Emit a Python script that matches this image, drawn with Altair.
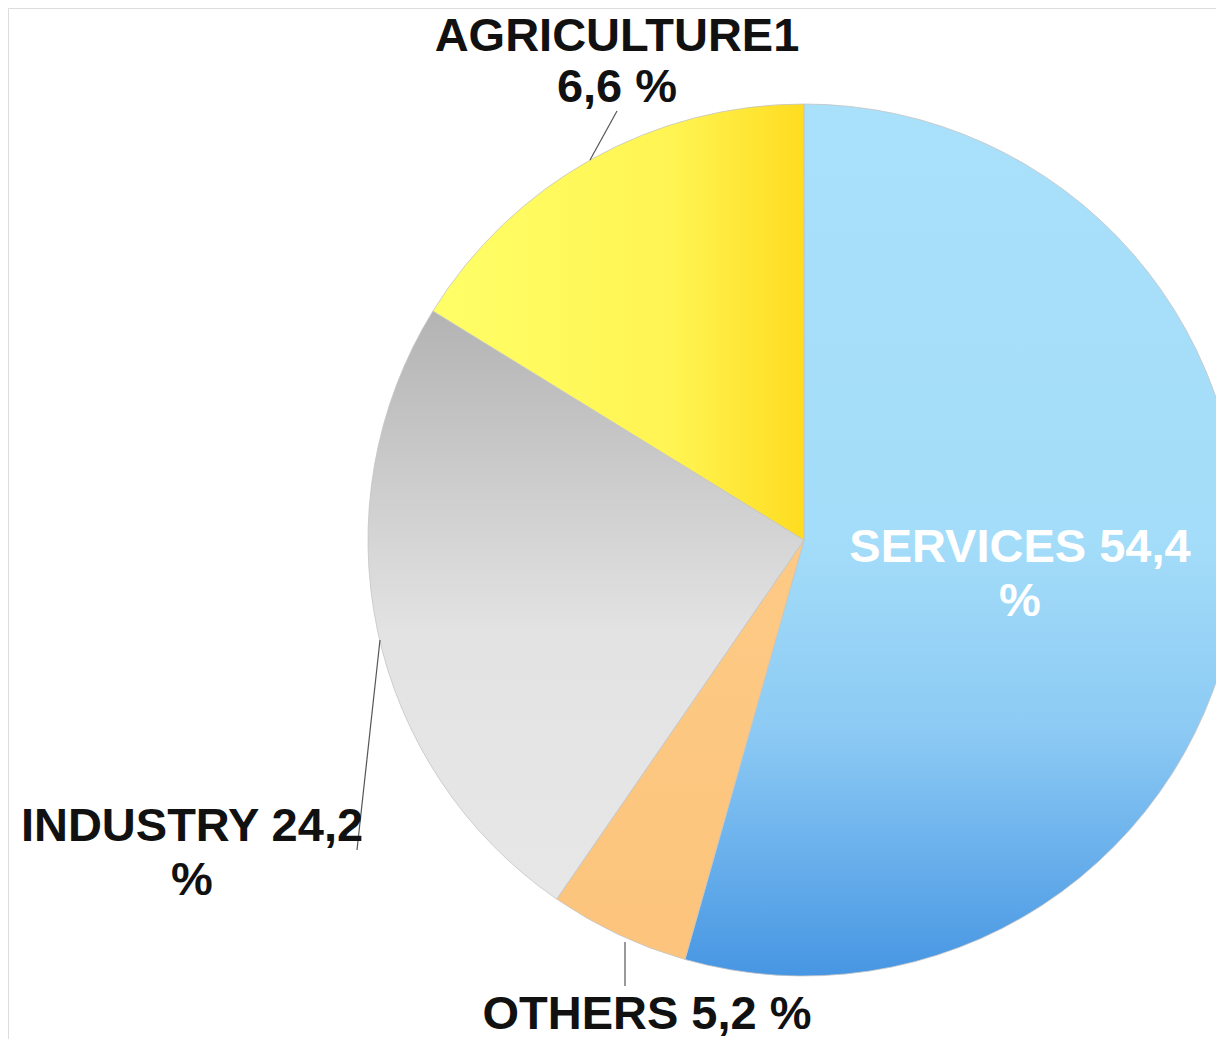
import math
import pandas as pd
import altair as alt

# ---- data ----
categories = ["SERVICES", "OTHERS", "INDUSTRY", "AGRICULTURE1"]
# slice shares as drawn (clockwise from 12 o'clock)
shares = [54.4, 5.2, 24.2, 16.2]
label_texts = ["SERVICES 54,4\n%", "OTHERS 5,2 %", "INDUSTRY 24,2\n%", "AGRICULTURE1\n6,6 %"]

df = pd.DataFrame({"category": categories, "share": shares, "label": label_texts})
df["end"] = df["share"].cumsum()
df["start"] = df["end"] - df["share"]

W, H = 1208, 1031
CX, CY, R = 796, 532, 436
FONT = "Liberation Sans"

def grad(stops, x1=0, y1=0, x2=0, y2=1):
    return alt.LinearGradient(
        gradient="linear",
        stops=[alt.GradientStop(offset=o, color=c) for o, c in stops],
        x1=x1, y1=y1, x2=x2, y2=y2,
    )

fills = {
    "SERVICES": grad([(0, "#a9e0fa"), (0.5, "#a4ddf9"), (0.72, "#8ccaf4"), (1, "#4796e3")]),
    "OTHERS": grad([(0, "#fdca85"), (1, "#fcc47c")]),
    "INDUSTRY": grad([(0, "#b3b3b3"), (0.55, "#e3e3e3"), (1, "#e7e7e7")]),
    "AGRICULTURE1": grad([(0, "#ffff68"), (0.65, "#fff452"), (1, "#ffdc20")], x1=0, y1=0, x2=1, y2=0),
}

theta_scale = alt.Scale(domain=[0, 100], range=[0, 2 * math.pi])
base = alt.Chart(df)

layers = []
for cat in categories:
    layers.append(
        base.transform_filter(alt.datum.category == cat)
        .mark_arc(radius=R, fill=fills[cat], stroke="#c4c4c4", strokeWidth=0.8)
        .encode(
            theta=alt.Theta("start:Q", scale=theta_scale),
            theta2="end:Q",
            x=alt.value(CX),
            y=alt.value(CY),
        )
    )

# leader lines (annotations)
leaders = [
    (582, 152, 609, 103),   # agriculture
    (617, 934, 617, 978),   # others
    (372, 632, 349, 842),   # industry
]
for x1, y1, x2, y2 in leaders:
    layers.append(
        alt.Chart(df).transform_filter(alt.datum.category == "SERVICES")
        .mark_rule(color="#555555", strokeWidth=1.2)
        .encode(x=alt.value(x1), y=alt.value(y1), x2=alt.value(x2), y2=alt.value(y2))
    )

# labels (annotation placement): x, y, colour, line height
label_pos = {
    "SERVICES": (1012, 554, "#ffffff", 54),
    "OTHERS": (639, 1021, "#111111", 54),
    "INDUSTRY": (184, 833, "#111111", 54),
    "AGRICULTURE1": (609, 43, "#111111", 51),
}
for cat in categories:
    lx, ly, col, lh = label_pos[cat]
    layers.append(
        base.transform_filter(alt.datum.category == cat)
        .mark_text(
            font=FONT, fontSize=47, fontWeight="bold", color=col,
            align="center", baseline="alphabetic", lineBreak="\n", lineHeight=lh,
        )
        .encode(text="label:N", x=alt.value(lx), y=alt.value(ly))
    )

chart = (
    alt.layer(*layers)
    .properties(width=W, height=H, padding=0, autosize=alt.AutoSizeParams(type="none"))
    .configure_view(strokeWidth=0, stroke="transparent")
    .configure(background="transparent")
)

chart.save("out.html", embed_options={"renderer": "svg", "actions": False})
